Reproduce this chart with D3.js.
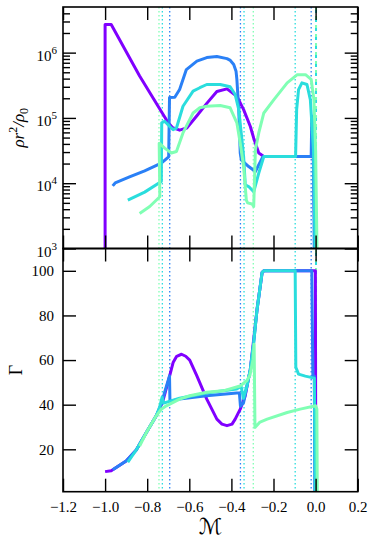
<!DOCTYPE html>
<html>
<head>
<meta charset="utf-8">
<script src="https://cdn.jsdelivr.net/npm/d3@7"></script>
<style>
  body { margin: 0; background: #fff; }
  svg text { font-family: 'Liberation Serif', 'DejaVu Serif', serif; fill: #000; }
</style>
</head>
<body>
<svg id="chart" width="374" height="547"></svg>
<script>
// run colours (matplotlib "rainbow" at 0, 1/6, 1/3, 1/2)
var runColors = ["#8000ff", "#2a80f6", "#2adddd", "#80ffb4"];

// top panel: [M, rho r^2 / rho0]
var densPurple = [[-1.0,500],[-1.0,2.7e6],[-0.971,2.7e6],[-0.836,4.4e5],[-0.701,8.5e4],[-0.679,7.1e4],[-0.646,6.5e4],
    [-0.612,7.0e4],[-0.564,1.08e5],[-0.515,1.7e5],[-0.469,2.54e5],[-0.421,2.79e5],[-0.374,2.15e5],[-0.342,1.34e5],
    [-0.310,7.4e4],[-0.294,4.9e4],[-0.270,2.9e4],[-0.246,2.57e4],[-0.011,2.57e4],[-0.001,500]];
var densBlue = [[-0.964,9.1e3],[-0.952,1.01e4],[-0.884,1.25e4],[-0.812,1.55e4],[-0.733,2.03e4],[-0.698,2.54e4],
    [-0.694,2.05e5],[-0.669,2.07e5],[-0.646,2.72e5],[-0.614,5.5e5],[-0.564,7.4e5],[-0.517,8.4e5],[-0.469,8.7e5],
    [-0.421,8.1e5],[-0.405,7.6e5],[-0.389,6.6e5],[-0.378,5.2e5],[-0.374,3.9e5],[-0.369,2.15e5],[-0.365,1.34e5],
    [-0.358,2.9e4],[-0.353,2.28e4],[-0.318,1.8e4],[-0.286,1.51e4],[-0.254,2.42e4],[-0.246,2.57e4],
    [-0.021,2.57e4],[-0.018,1.06e5],[-0.011,1.06e5],[-0.006,500]];
var densTeal = [[-0.892,5.5e3],[-0.812,7.3e3],[-0.733,1.06e4],[-0.731,8.4e4],[-0.717,8.9e4],[-0.693,7.4e4],
    [-0.677,6.6e4],[-0.661,7.0e4],[-0.630,1.51e5],[-0.582,2.57e5],[-0.550,2.9e5],[-0.517,3.25e5],[-0.453,3.25e5],
    [-0.406,3.0e5],[-0.382,2.28e5],[-0.365,1.34e5],[-0.350,4.6e4],[-0.342,2.57e4],[-0.334,9.4e3],[-0.318,8.9e3],
    [-0.294,7.4e3],[-0.270,1.43e4],[-0.246,2.57e4],[-0.095,2.57e4],[-0.090,1.34e5],[-0.081,2.72e5],[-0.065,3.45e5],
    [-0.041,3.25e5],[-0.025,1.91e5],[-0.010,3.25e4],[-0.001,500]];
var densGreen = [[-0.836,3.45e3],[-0.788,4.4e3],[-0.740,6.2e3],[-0.743,4.1e4],[-0.717,3.45e4],[-0.685,2.9e4],
    [-0.661,3.06e4],[-0.630,5.9e4],[-0.582,1.19e5],[-0.550,1.43e5],[-0.517,1.51e5],[-0.453,1.55e5],[-0.406,1.43e5],
    [-0.374,8.4e4],[-0.358,4.1e4],[-0.342,1.8e4],[-0.329,5.5e3],[-0.323,5.0e3],[-0.302,4.8e3],[-0.294,4.4e3],
    [-0.286,3.25e4],[-0.270,5.9e4],[-0.246,1.19e5],[-0.198,1.91e5],[-0.135,3.45e5],[-0.087,4.6e5],[-0.048,4.6e5],
    [-0.021,3.9e5],[-0.008,1.91e5],[0.0,3.25e4],[0.008,500]];

// bottom panel: [M, Gamma]
var gamPurple = [[-1.0,10],[-0.971,10.4],[-0.900,14.8],[-0.852,19.7],[-0.804,27.5],[-0.757,35],[-0.727,41.1],
    [-0.701,50.1],[-0.677,58.9],[-0.660,61.7],[-0.637,62.6],[-0.617,61.7],[-0.598,60.0],[-0.564,52.9],[-0.517,42.5],
    [-0.469,33.5],[-0.445,31.3],[-0.421,30.6],[-0.397,31.3],[-0.382,33.5],[-0.358,38],[-0.335,43.8],[-0.310,55.9],
    [-0.278,82.8],[-0.254,99.3],[-0.246,100],[-0.001,100],[0.001,0]];
var gamBlue = [[-0.964,10.8],[-0.900,14.8],[-0.852,19.7],[-0.804,27.5],[-0.757,35],[-0.733,40.2],[-0.717,45.6],
    [-0.694,52.9],[-0.692,41.6],[-0.646,42.5],[-0.518,44],[-0.375,45.2],[-0.362,45.2],[-0.357,39.3],[-0.342,41],
    [-0.326,48.4],[-0.310,55.9],[-0.294,67.9],[-0.278,82.8],[-0.254,99.3],[-0.246,100],[-0.018,100],[-0.013,52.9],
    [-0.006,52.8],[-0.004,0]];
var gamTeal = [[-0.892,14.2],[-0.852,19.7],[-0.804,27.5],[-0.757,35],[-0.741,38.9],[-0.729,43.4],[-0.722,40.7],
    [-0.646,42.9],[-0.518,45.2],[-0.375,47],[-0.354,48.3],[-0.343,42.9],[-0.326,48.4],[-0.310,55.9],[-0.294,67.9],
    [-0.278,82.8],[-0.254,99.3],[-0.246,100],[-0.097,100],[-0.094,56.8],[-0.081,53.7],[-0.049,52.8],[-0.006,51.9],
    [-0.001,0]];
var gamGreen = [[-0.836,21.5],[-0.804,27.5],[-0.757,35],[-0.733,38],[-0.709,39.5],[-0.646,42.5],[-0.598,44],
    [-0.518,45.6],[-0.439,46.2],[-0.359,48.4],[-0.327,50.7],[-0.312,53.2],[-0.297,60.4],[-0.292,67.1],[-0.288,29.8],
    [-0.264,32.2],[-0.230,33.5],[-0.135,36.5],[-0.073,38],[0.0,39.5],[0.006,38],[0.008,0]];

// dotted markers per run (colour index into runColors)
var markM = [-0.693, -0.357, -0.021, -0.728, -0.340, -0.097, -0.744, -0.296];
var markRun = [1, 1, 1, 2, 2, 2, 3, 3];
var edgeM = 0.002;  // dashed line at the outer edge

var xTicks = [-1.2, -1.0, -0.8, -0.6, -0.4, -0.2, 0.0, 0.2];
var densTicks = [1e3, 1e4, 1e5, 1e6];
var gamTicks = [20, 40, 60, 80, 100];

var dims = { left: 63, right: 357.7, top: 7, mid: 248.5, bottom: 491.7 };

var svg = d3.select("#chart");

var x = d3.scaleLinear().domain([-1.2, 0.2]).range([dims.left, dims.right]);
var yTop = d3.scaleLog().domain([1e3, 5e6]).range([dims.mid, dims.top]);
var yBot = d3.scaleLinear().domain([1, 110]).range([dims.bottom, dims.mid]);

// minor ticks for log axis
var densMinor = [];
[1e3, 1e4, 1e5, 1e6].forEach(function(dec) {
    for (var k = 2; k <= 9; k++) {
        if (dec * k < 5e6) densMinor.push(dec * k);
    }
});

// clip paths
var defs = svg.append("defs");
defs.append("clipPath").attr("id", "clipTop").append("rect")
    .attr("x", dims.left).attr("y", dims.top)
    .attr("width", dims.right - dims.left).attr("height", dims.mid - dims.top);
defs.append("clipPath").attr("id", "clipBot").append("rect")
    .attr("x", dims.left).attr("y", dims.mid)
    .attr("width", dims.right - dims.left).attr("height", dims.bottom - dims.mid);

// vertical marker lines through both panels
var marks = svg.append("g");
marks.selectAll("line.mark")
    .data(markM)
    .enter()
    .append("line")
    .attr("class", "mark")
    .attr("x1", d => x(d)).attr("x2", d => x(d))
    .attr("y1", dims.top).attr("y2", dims.bottom)
    .attr("stroke", (d, i) => runColors[markRun[i]])
    .attr("stroke-width", 1.3)
    .attr("stroke-dasharray", "1.5,2.5");

marks.append("line")
    .attr("x1", x(edgeM)).attr("x2", x(edgeM))
    .attr("y1", dims.top).attr("y2", dims.bottom)
    .attr("stroke", runColors[2])
    .attr("stroke-width", 2)
    .attr("stroke-dasharray", "6,3");
marks.append("line")
    .attr("x1", x(edgeM)).attr("x2", x(edgeM))
    .attr("y1", dims.top).attr("y2", dims.bottom)
    .attr("stroke", runColors[3])
    .attr("stroke-width", 2)
    .attr("stroke-dasharray", "3,6");

// curves
var topLine = d3.line().x(d => x(d[0])).y(d => yTop(d[1]));
var botLine = d3.line().x(d => x(d[0])).y(d => yBot(d[1]));

var topCurves = [densPurple, densBlue, densTeal, densGreen];
var botCurves = [gamPurple, gamBlue, gamTeal, gamGreen];

svg.append("g").attr("clip-path", "url(#clipTop)")
    .selectAll("path")
    .data(topCurves)
    .enter()
    .append("path")
    .attr("d", topLine)
    .attr("fill", "none")
    .attr("stroke", (d, i) => runColors[i])
    .attr("stroke-width", 3)
    .attr("stroke-linejoin", "round");

svg.append("g").attr("clip-path", "url(#clipBot)")
    .selectAll("path")
    .data(botCurves)
    .enter()
    .append("path")
    .attr("d", botLine)
    .attr("fill", "none")
    .attr("stroke", (d, i) => runColors[i])
    .attr("stroke-width", 3)
    .attr("stroke-linejoin", "round");

// axes: ticks pointing inwards on every side
function styleAxis(g) {
    g.select(".domain").remove();
    g.selectAll(".tick line").attr("stroke", "#000").attr("stroke-width", 1.4);
    g.selectAll(".tick text").style("font-size", "15px").attr("fill", "#000");
}
var noLabel = () => "";
var major = 13, minor = 7;

// top panel
svg.append("g").attr("transform", "translate(0," + dims.top + ")")
    .call(d3.axisTop(x).tickValues(xTicks).tickSize(-major).tickFormat(noLabel)).call(styleAxis);
svg.append("g").attr("transform", "translate(0," + dims.mid + ")")
    .call(d3.axisBottom(x).tickValues(xTicks).tickSize(-major).tickFormat(noLabel)).call(styleAxis);
svg.append("g").attr("transform", "translate(" + dims.left + ",0)")
    .call(d3.axisLeft(yTop).tickValues(densTicks).tickSize(-major).tickFormat(noLabel)).call(styleAxis);
svg.append("g").attr("transform", "translate(" + dims.left + ",0)")
    .call(d3.axisLeft(yTop).tickValues(densMinor).tickSize(-minor).tickFormat(noLabel)).call(styleAxis);
svg.append("g").attr("transform", "translate(" + dims.right + ",0)")
    .call(d3.axisRight(yTop).tickValues(densTicks).tickSize(-major).tickFormat(noLabel)).call(styleAxis);
svg.append("g").attr("transform", "translate(" + dims.right + ",0)")
    .call(d3.axisRight(yTop).tickValues(densMinor).tickSize(-minor).tickFormat(noLabel)).call(styleAxis);

// log tick labels, 10^n
var expLabels = svg.append("g").selectAll("text")
    .data(densTicks)
    .enter()
    .append("text")
    .attr("x", dims.left - 6)
    .attr("y", d => yTop(d) + 8)
    .attr("text-anchor", "end")
    .style("font-size", "15px");
expLabels.append("tspan").text("10");
expLabels.append("tspan")
    .attr("dy", -7)
    .style("font-size", "11px")
    .text(d => Math.round(Math.log10(d)));

// bottom panel
svg.append("g").attr("transform", "translate(0," + dims.mid + ")")
    .call(d3.axisTop(x).tickValues(xTicks).tickSize(-major).tickFormat(noLabel)).call(styleAxis);
svg.append("g").attr("transform", "translate(0," + dims.bottom + ")")
    .call(d3.axisBottom(x).tickValues(xTicks).tickSize(-major).tickPadding(10).tickFormat(d3.format(".1f")))
    .call(styleAxis);
svg.append("g").attr("transform", "translate(" + dims.left + ",0)")
    .call(d3.axisLeft(yBot).tickValues(gamTicks).tickSize(-major).tickPadding(9)).call(styleAxis);
svg.append("g").attr("transform", "translate(" + dims.right + ",0)")
    .call(d3.axisRight(yBot).tickValues(gamTicks).tickSize(-major).tickFormat(noLabel)).call(styleAxis);

// frames
[[dims.top, dims.mid], [dims.mid, dims.bottom]].forEach(function(p) {
    svg.append("rect")
        .attr("x", dims.left).attr("y", p[0])
        .attr("width", dims.right - dims.left).attr("height", p[1] - p[0])
        .attr("fill", "none").attr("stroke", "#000").attr("stroke-width", 1.6);
});

// axis titles
var densTitle = svg.append("text")
    .attr("transform", "translate(24," + ((dims.top + dims.mid) / 2) + ") rotate(-90)")
    .attr("text-anchor", "middle")
    .style("font-size", "17px");
densTitle.append("tspan").style("font-style", "italic").text("ρr");
densTitle.append("tspan").attr("dy", -7).style("font-size", "12px").text("2");
densTitle.append("tspan").attr("dy", 7).style("font-style", "italic").text("/ρ");
densTitle.append("tspan").attr("dy", 4).style("font-size", "12px").text("0");

svg.append("text")
    .attr("transform", "translate(22," + ((dims.mid + dims.bottom) / 2) + ") rotate(-90)")
    .attr("text-anchor", "middle")
    .style("font-size", "18px")
    .text("Γ");

svg.append("text")
    .attr("x", (dims.left + dims.right) / 2)
    .attr("y", 534)
    .attr("text-anchor", "middle")
    .style("font-size", "22px")
    .style("font-family", "'DejaVu Serif', 'DejaVu Sans', serif")
    .style("font-style", "italic")
    .text("ℳ");
</script>
</body>
</html>
